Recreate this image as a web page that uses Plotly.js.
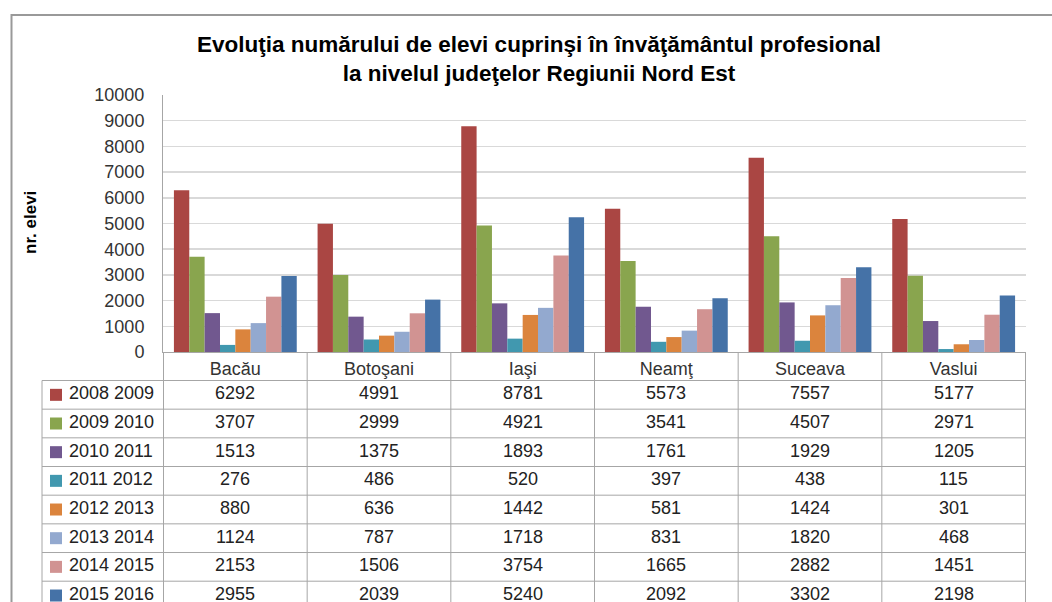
<!DOCTYPE html>
<html>
<head>
<meta charset="utf-8">
<script src="https://cdn.plot.ly/plotly-3.0.1.min.js"></script>
<style>
  html, body { margin: 0; padding: 0; background: #fff; }
  #chart { width: 1052px; height: 602px; }
</style>
</head>
<body>
<div id="chart"></div>
<script>
// judete (categorii)
const counties = ['Bacău', 'Botoşani', 'Iaşi', 'Neamţ', 'Suceava', 'Vaslui'];

// ani scolari (serii)
const years = ['2008 2009', '2009 2010', '2010 2011', '2011 2012',
               '2012 2013', '2013 2014', '2014 2015', '2015 2016'];

// numar elevi pe judet
const y0809 = [6292, 4991, 8781, 5573, 7557, 5177];
const y0910 = [3707, 2999, 4921, 3541, 4507, 2971];
const y1011 = [1513, 1375, 1893, 1761, 1929, 1205];
const y1112 = [276, 486, 520, 397, 438, 115];
const y1213 = [880, 636, 1442, 581, 1424, 301];
const y1314 = [1124, 787, 1718, 831, 1820, 468];
const y1415 = [2153, 1506, 3754, 1665, 2882, 1451];
const y1516 = [2955, 2039, 5240, 2092, 3302, 2198];

const colors = ['#AA4643', '#89A54E', '#71588F', '#4198AF',
                '#DB843D', '#93A9CF', '#D19392', '#4572A7'];

const values = [y0809, y0910, y1011, y1112, y1213, y1314, y1415, y1516];

const font = 'Liberation Sans, Arial, sans-serif';

// geometrie (pixeli)
const W = 1052, H = 602;
const L = 163, R = 26, T = 95, B = 250;
const plotW = W - L - R, plotH = H - T - B;
const px = v => (v - L) / plotW;          // pixel x -> paper x
const py = v => (H - B - v) / plotH;      // pixel y -> paper y

const headBottom = 380.5;
const rowH = 28.67;
const tableLeft = 42;
const tableBottom = 640;
const gridCol = '#a6a6a6';

const data = years.map((name, i) => ({
  type: 'bar',
  name: name,
  x: counties,
  y: values[i],
  marker: { color: colors[i] },
  hoverinfo: 'x+y+name'
}));

const shapes = [];
const annotations = [];

// chenar exterior
shapes.push({
  type: 'rect', xref: 'paper', yref: 'paper',
  x0: px(11.5), x1: px(1080), y0: py(15), y1: py(tableBottom),
  line: { color: '#999', width: 2 }
});

// linii orizontale ale tabelului
for (let k = 0; k <= years.length; k++) {
  const yy = py(headBottom + k * rowH);
  shapes.push({
    type: 'line', xref: 'paper', yref: 'paper',
    x0: px(tableLeft), x1: 1, y0: yy, y1: yy,
    line: { color: gridCol, width: 1 }
  });
}

// linii verticale intre judete
for (let j = 0; j <= counties.length; j++) {
  shapes.push({
    type: 'line', xref: 'x', yref: 'paper',
    x0: j - 0.5, x1: j - 0.5, y0: 0, y1: py(tableBottom),
    line: { color: gridCol, width: 1 }
  });
}
shapes.push({
  type: 'line', xref: 'paper', yref: 'paper',
  x0: px(tableLeft), x1: px(tableLeft), y0: py(headBottom), y1: py(tableBottom),
  line: { color: gridCol, width: 1 }
});

// randurile tabelului: legenda + valori
years.forEach((name, i) => {
  const rc = headBottom + (i + 0.5) * rowH;
  const yc = py(rc - 1.5);
  shapes.push({
    type: 'rect', xref: 'paper', yref: 'paper',
    x0: px(50), x1: px(62), y0: py(rc + 6), y1: py(rc - 6),
    fillcolor: colors[i], line: { width: 0 }
  });
  annotations.push({
    xref: 'paper', yref: 'paper', x: px(67), y: yc,
    xanchor: 'left', yanchor: 'middle', showarrow: false,
    text: name, font: { family: font, size: 18, color: '#222' }
  });
  counties.forEach((c, j) => {
    annotations.push({
      xref: 'x', yref: 'paper', x: c, y: yc,
      xanchor: 'center', yanchor: 'middle', showarrow: false,
      text: String(values[i][j]), font: { family: font, size: 18, color: '#222' }
    });
  });
});

// titlul axei y
annotations.push({
  xref: 'paper', yref: 'paper', x: px(30), y: py(223),
  xanchor: 'center', yanchor: 'middle', showarrow: false, textangle: -90,
  text: '<b>nr. elevi</b>', font: { family: font, size: 17, color: '#000' }
});

const layout = {
  width: W, height: H,
  margin: { l: L, r: R, t: T, b: B, pad: 0 },
  paper_bgcolor: '#fff', plot_bgcolor: '#fff',
  showlegend: false,
  barmode: 'group', bargap: 0.145, bargroupgap: 0,
  title: {
    text: '<b>Evoluţia numărului de elevi cuprinşi în învăţământul profesional<br>la nivelul judeţelor Regiunii Nord Est</b>',
    x: 539 / W, xanchor: 'center', xref: 'container',
    y: 1 - 52 / H, yanchor: 'top', yref: 'container',
    font: { family: font, size: 22.5, color: '#000' }
  },
  xaxis: {
    type: 'category', showline: true, linecolor: gridCol, linewidth: 1,
    ticks: '', showgrid: false, zeroline: false,
    tickfont: { family: font, size: 18, color: '#333' }
  },
  yaxis: {
    range: [0, 10000], dtick: 1000, tick0: 0, tickformat: 'd',
    showline: true, linecolor: gridCol, linewidth: 1,
    showgrid: true, gridcolor: '#d9d9d9', gridwidth: 1.5,
    zeroline: false, ticks: '', ticklabelstandoff: 14,
    tickfont: { family: font, size: 18, color: '#333' }
  },
  shapes: shapes,
  annotations: annotations
};

Plotly.newPlot('chart', data, layout, { displayModeBar: false, staticPlot: true });
</script>
</body>
</html>
